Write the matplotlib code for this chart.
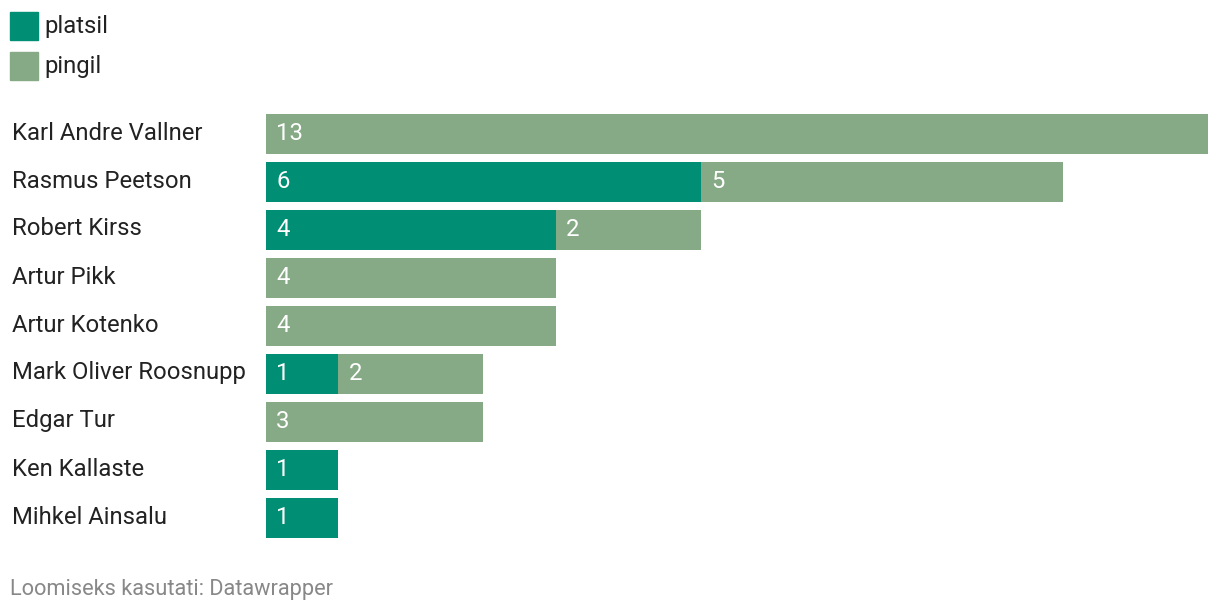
import matplotlib.pyplot as plt
from matplotlib.patches import Rectangle

plt.rcParams['font.family'] = ['Roboto', 'DejaVu Sans']

names = ['Karl Andre Vallner', 'Rasmus Peetson', 'Robert Kirss', 'Artur Pikk',
         'Artur Kotenko', 'Mark Oliver Roosnupp', 'Edgar Tur', 'Ken Kallaste',
         'Mihkel Ainsalu']
platsil = [0, 6, 4, 0, 0, 1, 0, 1, 1]
pingil = [13, 5, 2, 4, 4, 2, 3, 0, 0]

c_plat = '#008f74'
c_ping = '#85aa85'
fs = 17.2

W, H = 1220, 614
fig = plt.figure(figsize=(W / 100, H / 100), dpi=100)

# axes placed in pixels
x0, x1 = 266, 1208
ytop, ybot = 110, 542
ax = fig.add_axes((x0 / W, 1 - ybot / H, (x1 - x0) / W, (ybot - ytop) / H))
ax.set_xlim(0, 13)
ax.set_ylim(len(names) - 0.5, -0.5)
ax.axis('off')

ypos = list(range(len(names)))
bh = 40 / 48
ax.barh(ypos, platsil, height=bh, color=c_plat)
ax.barh(ypos, pingil, left=platsil, height=bh, color=c_ping)

px = 13 / (x1 - x0)
for i in ypos:
    if platsil[i]:
        ax.text(10 * px, i, str(platsil[i]), color='white', fontsize=fs, va='center', ha='left')
    if pingil[i]:
        ax.text(platsil[i] + 10 * px, i, str(pingil[i]), color='white', fontsize=fs, va='center', ha='left')
    fig.text(12 / W, 1 - (133 + 48 * i) / H, names[i], fontsize=fs, color='#222222',
             va='center', ha='left')

# legend
for j, (lab, col) in enumerate([('platsil', c_plat), ('pingil', c_ping)]):
    top = 12 + 40 * j
    fig.patches.append(Rectangle((10 / W, 1 - (top + 28) / H), 28 / W, 28 / H,
                                 transform=fig.transFigure, color=col))
    fig.text(44 / W, 1 - (top + 14) / H, lab, fontsize=fs, color='#222222', va='center', ha='left')

fig.text(10 / W, 1 - 590 / H, 'Loomiseks kasutati: Datawrapper', fontsize=15.7,
         color='#888888', va='center', ha='left')

fig.savefig('out.png', dpi=100)
